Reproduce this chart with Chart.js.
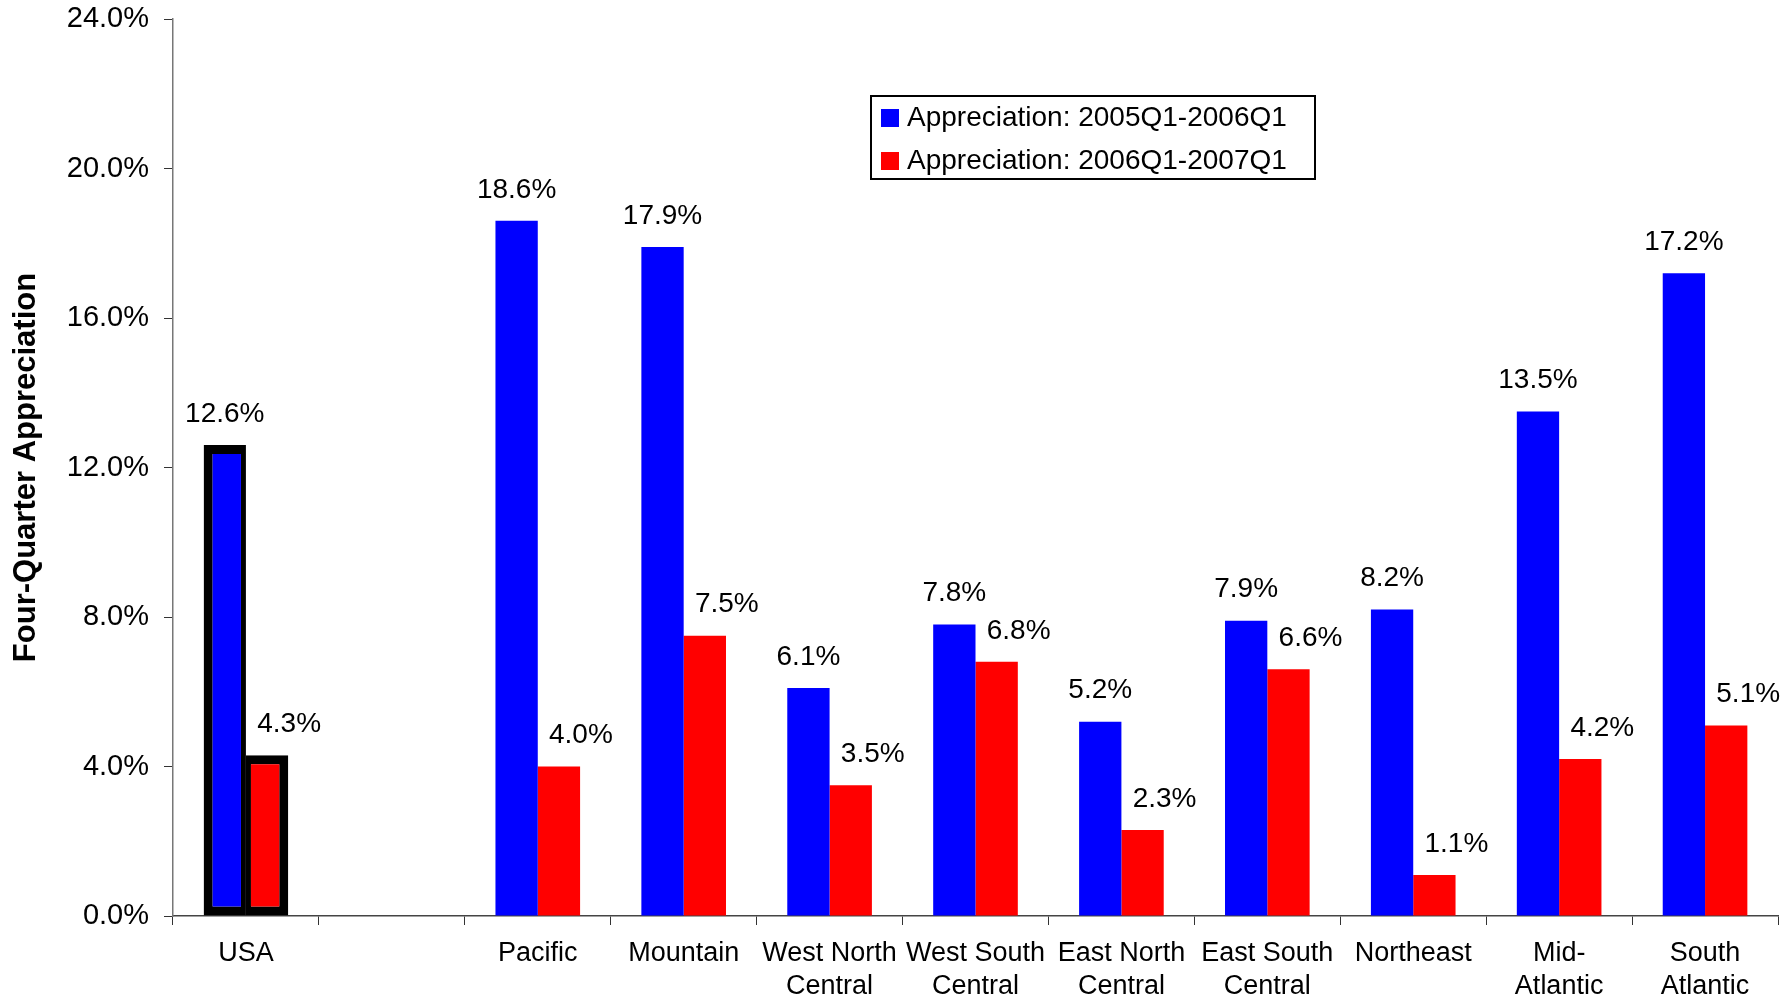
<!DOCTYPE html>
<html>
<head>
<meta charset="utf-8">
<script src="https://cdn.jsdelivr.net/npm/chart.js@4/dist/chart.umd.min.js"></script>
<style>
  html, body { margin: 0; padding: 0; background: #fff; }
  canvas { display: block; }
</style>
</head>
<body>
<canvas id="chart" width="1791" height="1008"></canvas>
<script>
const regions = ['USA', '', 'Pacific', 'Mountain', ['West North', 'Central'], ['West South', 'Central'],
  ['East North', 'Central'], ['East South', 'Central'], 'Northeast', ['Mid-', 'Atlantic'], ['South', 'Atlantic']];
const appreciation2005 = [12.6, null, 18.6, 17.9, 6.1, 7.8, 5.2, 7.9, 8.2, 13.5, 17.2];
const appreciation2006 = [4.3, null, 4.0, 7.5, 3.5, 6.8, 2.3, 6.6, 1.1, 4.2, 5.1];
const seriesNames = ['Appreciation: 2005Q1-2006Q1', 'Appreciation: 2006Q1-2007Q1'];
const seriesColors = ['#0000ff', '#ff0000'];
const yMin = 0, yMax = 24, yStep = 4;

const FONT = '"Liberation Sans", Arial, sans-serif';

// USA bars get a thick black frame
const usaBorder = (side) => (ctx) => {
  if (ctx.dataIndex !== 0) return 0;
  return side === 0
    ? { left: 9, top: 9, bottom: 9, right: 5 }
    : { left: 5, top: 9, bottom: 9, right: 9 };
};

const valueLabels = {
  id: 'valueLabels',
  afterDatasetsDraw(chart) {
    const ctx = chart.ctx;
    ctx.save();
    ctx.font = '28px ' + FONT;
    ctx.fillStyle = '#000';
    ctx.textAlign = 'center';
    ctx.textBaseline = 'middle';
    chart.data.datasets.forEach((ds, di) => {
      chart.getDatasetMeta(di).data.forEach((el, i) => {
        const v = ds.data[i];
        if (v == null) return;
        const dx = di === 0 ? 0 : 22;
        ctx.fillText(v.toFixed(1) + '%', el.x + dx, el.y - 31);
      });
    });
    ctx.restore();
  }
};

const boxLegend = {
  id: 'boxLegend',
  afterDraw(chart) {
    const ctx = chart.ctx;
    const x = 871, y = 96, w = 444, h = 83;
    ctx.save();
    ctx.fillStyle = '#fff';
    ctx.fillRect(x, y, w, h);
    ctx.lineWidth = 2;
    ctx.strokeStyle = '#000';
    ctx.strokeRect(x, y, w, h);
    ctx.font = '28px ' + FONT;
    ctx.textBaseline = 'middle';
    ctx.textAlign = 'left';
    seriesNames.forEach((name, i) => {
      const cy = y + 22 + i * 43;
      ctx.fillStyle = seriesColors[i];
      ctx.fillRect(x + 10, cy - 9, 18, 18);
      ctx.fillStyle = '#000';
      ctx.fillText(name, x + 36, cy);
    });
    ctx.restore();
  }
};

new Chart(document.getElementById('chart'), {
  type: 'bar',
  data: {
    labels: regions,
    datasets: [
      {
        label: seriesNames[0],
        data: appreciation2005,
        backgroundColor: seriesColors[0],
        borderColor: '#000',
        borderWidth: usaBorder(0),
        borderSkipped: false
      },
      {
        label: seriesNames[1],
        data: appreciation2006,
        backgroundColor: seriesColors[1],
        borderColor: '#000',
        borderWidth: usaBorder(1),
        borderSkipped: false
      }
    ]
  },
  options: {
    responsive: false,
    animation: false,
    categoryPercentage: 0.58,
    barPercentage: 1.0,
    layout: { padding: { top: 19, right: 13, left: 0, bottom: 0 } },
    plugins: {
      legend: { display: false },
      tooltip: { enabled: false }
    },
    scales: {
      x: {
        grid: { offset: true, drawOnChartArea: false, tickLength: 9, color: '#333' },
        border: { color: '#444', width: 1.5 },
        ticks: {
          autoSkip: false,
          maxRotation: 0,
          padding: 12,
          color: '#000',
          font: { family: FONT, size: 27, lineHeight: 1.22 }
        },
        afterFit: (s) => { s.height = 92; s.paddingLeft = 0; s.paddingRight = 0; }
      },
      y: {
        min: yMin,
        max: yMax,
        grid: { drawOnChartArea: false, tickLength: 9, color: '#333' },
        border: { color: '#777', width: 1.5 },
        ticks: {
          stepSize: yStep,
          padding: 15,
          color: '#000',
          font: { family: FONT, size: 29 },
          callback: (v) => v.toFixed(1) + '%'
        },
        title: {
          display: true,
          text: 'Four-Quarter Appreciation',
          color: '#000',
          padding: { top: 8, bottom: 0 },
          font: { family: FONT, size: 31, weight: 'bold' }
        },
        afterFit: (s) => { s.width = 173; s.paddingTop = 0; s.paddingBottom = 0; }
      }
    }
  },
  plugins: [valueLabels, boxLegend]
});
</script>
</body>
</html>
